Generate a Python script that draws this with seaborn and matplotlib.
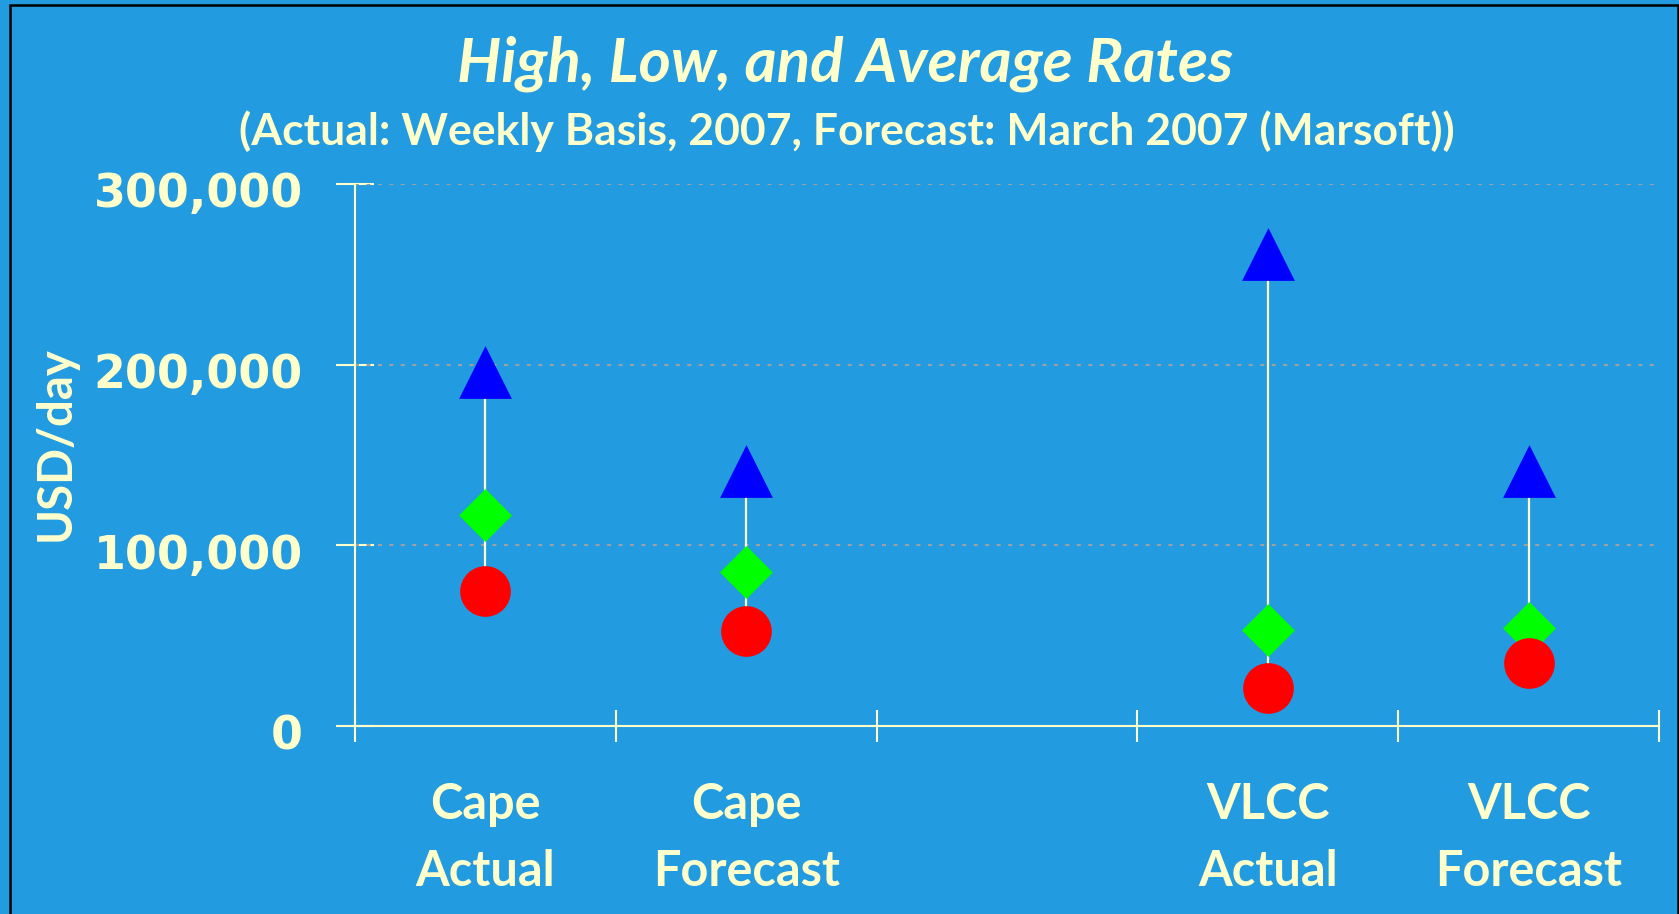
import matplotlib
matplotlib.use("Agg")
import matplotlib.pyplot as plt
import matplotlib.transforms as mtransforms
from matplotlib.patches import Rectangle
import pandas as pd
import seaborn as sns

# values (USD/day)
categories = ["Cape\nActual", "Cape\nForecast", "VLCC\nActual", "VLCC\nForecast"]
high = [196000, 141000, 261000, 141000]
average = [117000, 85000, 53000, 54000]
low = [75000, 52500, 21000, 35000]
yticks = [0, 100000, 200000, 300000]
ytick_labels = ["0", "100,000", "200,000", "300,000"]

# an empty slot sits between the Cape and VLCC groups
order = categories[:2] + [" "] + categories[2:]

BG = "#239BE0"
CREAM = "#FFFFCC"

df = pd.DataFrame({"category": categories, "High": high, "Average": average, "Low": low})

sns.set_style("white")
plt.rcParams["font.family"] = ["Lato", "DejaVu Sans"]

fig = plt.figure(figsize=(16.79, 9.14), dpi=100, facecolor=BG)
ax = fig.add_axes([355 / 1679, 1 - 726 / 914, (1659 - 355) / 1679, (726 - 184) / 914])
ax.set_facecolor(BG)

# high-low range lines
xpos = [order.index(c) for c in df["category"]]
ax.vlines(xpos, df["Low"], df["High"], color=CREAM, lw=1.6, zorder=2)

for col, marker, color, size in [("High", "^", "#0000FF", 38),
                                 ("Average", "D", "#00FF00", 27),
                                 ("Low", "o", "#FF0000", 36.5)]:
    sns.stripplot(data=df, x="category", y=col, order=order, jitter=False,
                  marker=marker, color=color, size=size, linewidth=0,
                  ax=ax, zorder=3, clip_on=False)

ax.set_xlim(-0.5, 4.5)
ax.set_ylim(0, 300000)

# gridlines
for y in yticks[1:]:
    ax.axhline(y, color="#A0A0A0", lw=1.5, linestyle=(0, (1.9, 3.6)), zorder=1)

for side in ["top", "right"]:
    ax.spines[side].set_visible(False)
for side in ["left", "bottom"]:
    ax.spines[side].set_color(CREAM)
    ax.spines[side].set_linewidth(1.5)

ax.set_yticks(yticks)
ax.set_yticklabels(ytick_labels, family="DejaVu Sans", fontweight="bold", fontsize=33, color=CREAM)
ax.tick_params(axis="y", left=True, direction="inout", length=27, width=1.5, color=CREAM, pad=24)
offset = mtransforms.ScaledTranslation(0, -6 / 100, fig.dpi_scale_trans)
for lab in ax.get_yticklabels():
    lab.set_transform(lab.get_transform() + offset)

bounds = [i - 0.5 for i in range(len(order) + 1)]
ax.set_xticks(bounds)
ax.set_xticklabels([""] * len(bounds))
ax.tick_params(axis="x", which="major", bottom=True, direction="inout", length=23, width=1.5,
               color=CREAM)
ax.set_xticks(range(len(order)), order, minor=True)
ax.tick_params(axis="x", which="minor", bottom=True, length=0, pad=40, labelsize=35,
               labelcolor=CREAM)
for lab in ax.get_xticklabels(minor=True):
    lab.set_fontweight("bold")
    lab.set_linespacing(1.62)

ax.set_xlabel("")
ax.set_ylabel("")

fig.text(56 / 1679, 1 - 444 / 914, "USD/day", rotation=90, ha="center", va="center",
         fontsize=34, fontweight="bold", color=CREAM)
fig.text(845 / 1679, 1 - 64 / 914, "High, Low, and Average Rates", ha="center", va="center",
         fontsize=44.5, fontweight="bold", fontstyle="italic", color=CREAM)
fig.text(847 / 1679, 1 - 131 / 914, "(Actual: Weekly Basis, 2007, Forecast: March 2007 (Marsoft))",
         ha="center", va="center", fontsize=32, fontweight="bold", color=CREAM)

# black frame around the slide area
fig.patches.append(Rectangle((10 / 1679, -0.1), (1678 - 10) / 1679, 1.1 - 5 / 914,
                             transform=fig.transFigure, fill=False, edgecolor="black", lw=1.8))

fig.savefig("out.png", dpi=100, facecolor=BG)
